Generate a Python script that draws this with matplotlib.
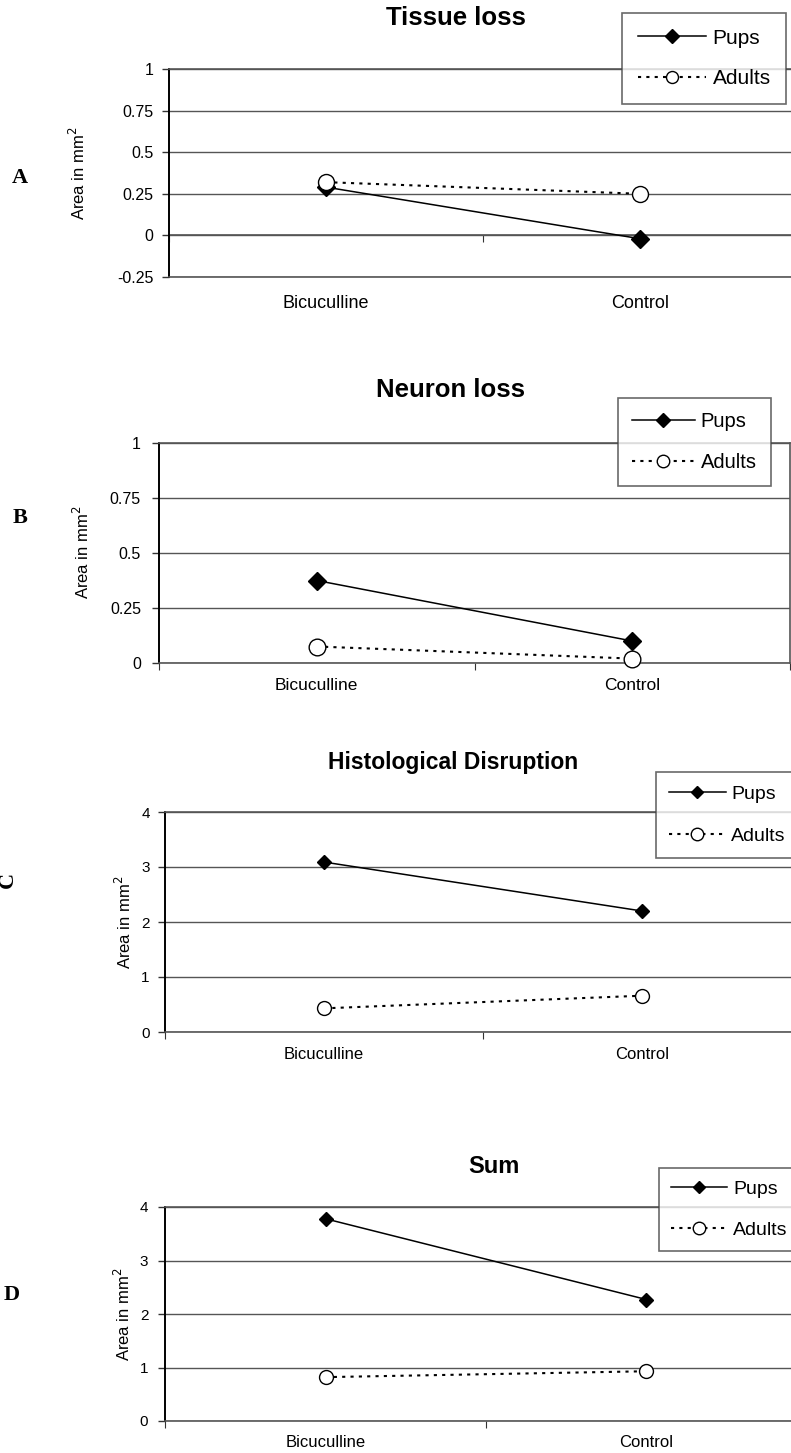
import matplotlib
matplotlib.use("Agg")
import matplotlib.pyplot as plt

plt.rcParams['font.family'] = ['Liberation Sans', 'DejaVu Sans']

categories = ["Bicuculline", "Control"]
series_names = ["Pups", "Adults"]

titles = ["Tissue loss", "Neuron loss", "Histological Disruption", "Sum"]
panel_letters = ["A", "B", "C", "D"]

pups_tissue = [0.29, -0.02]
adults_tissue = [0.32, 0.25]
pups_neuron = [0.375, 0.10]
adults_neuron = [0.075, 0.02]
pups_histo = [3.09, 2.20]
adults_histo = [0.43, 0.66]
pups_sum = [3.78, 2.27]
adults_sum = [0.82, 0.93]

yticks_small = [-0.25, 0, 0.25, 0.5, 0.75, 1]
yticks_large = [0, 1, 2, 3, 4]

W, H = 791, 1453


def px_rect(left, right, top, bottom):
    return [left / W, 1 - bottom / H, (right - left) / W, (bottom - top) / H]


# layout of each panel in pixels
panels = [
    dict(rect=(169, 797, 69, 277), ylim=(-0.25, 1), yticks=yticks_small,
         pups=pups_tissue, adults=adults_tissue,
         title_xy=(456, 25), label_xy=(78, 173), letter_xy=(20, 178),
         legend_xy=(622, 13), ms=(9, 11.5), mscale=0.75, tickpad=6,
         ticksize=11.5, catsize=13, catpad=13, titlesize=18.5,
         leg=dict(fontsize=15, handlelength=3.3, borderpad=0.75,
                  labelspacing=1.05)),
    dict(rect=(159, 790, 443, 663), ylim=(0, 1), yticks=[0, 0.25, 0.5, 0.75, 1],
         pups=pups_neuron, adults=adults_neuron,
         title_xy=(451, 397), label_xy=(82, 552), letter_xy=(20, 518),
         legend_xy=(618, 398), ms=(9, 12), mscale=0.75, tickpad=8,
         ticksize=11.5, catsize=12.5, catpad=11, titlesize=18.5,
         leg=dict(fontsize=14.5, handlelength=3.1, borderpad=0.7,
                  labelspacing=1.1)),
    dict(rect=(165, 801, 812, 1032), ylim=(0, 4), yticks=yticks_large,
         pups=pups_histo, adults=adults_histo,
         title_xy=(453, 769), label_xy=(124, 922), letter_xy=(8, 880),
         legend_xy=(656, 772), ms=(7, 10), mscale=0.9, tickpad=6,
         ticksize=11, catsize=12, catpad=11, titlesize=16.5,
         leg=dict(fontsize=14, handlelength=2.9, borderpad=0.68,
                  labelspacing=1.26)),
    dict(rect=(165, 807, 1207, 1421), ylim=(0, 4), yticks=yticks_large,
         pups=pups_sum, adults=adults_sum,
         title_xy=(494, 1173), label_xy=(123, 1314), letter_xy=(12, 1295),
         legend_xy=(659, 1168), ms=(7, 10), mscale=0.9, tickpad=7,
         ticksize=11, catsize=12, catpad=10, titlesize=17,
         leg=dict(fontsize=14, handlelength=2.9, borderpad=0.62,
                  labelspacing=1.2)),
]

fig = plt.figure(figsize=(W / 100, H / 100), dpi=100)

grid_col = "#555555"
x = [0.5, 1.5]

for i, p in enumerate(panels):
    ax = fig.add_axes(px_rect(*p["rect"]))
    ax.set_xlim(0, 2)
    ax.set_ylim(*p["ylim"])

    ax.set_yticks(p["yticks"])
    ax.set_yticklabels(["{:g}".format(v) for v in p["yticks"]])
    ax.yaxis.grid(True, color=grid_col, lw=1)
    ax.set_axisbelow(True)
    ax.tick_params(axis="y", length=5, width=1, direction="out",
                   pad=p["tickpad"], labelsize=p["ticksize"], color="#333333")

    # category labels as minor ticks, major ticks unlabeled
    ax.set_xticks([0, 1, 2])
    ax.set_xticklabels([])
    ax.set_xticks(x, minor=True)
    ax.set_xticklabels(categories, minor=True)
    ax.tick_params(axis="x", which="minor", length=0, pad=p["catpad"],
                   labelsize=p["catsize"])
    ax.tick_params(axis="x", which="major", length=5, color="#333333")

    for s in ["top", "right", "bottom"]:
        ax.spines[s].set_color(grid_col)
        ax.spines[s].set_linewidth(1.2)
    ax.spines["left"].set_color("black")
    ax.spines["left"].set_linewidth(1.4)

    if p["ylim"][0] < 0:
        # category axis crosses at zero
        ax.tick_params(axis="x", which="major", length=0)
        frac = (0 - p["ylim"][0]) / (p["ylim"][1] - p["ylim"][0])
        sec = ax.secondary_xaxis(frac)
        sec.set_xticks([0, 1, 2])
        sec.set_xticklabels([])
        sec.tick_params(length=5, color="#333333")
        sec.spines["bottom"].set_color(grid_col)
        sec.spines["bottom"].set_linewidth(1.2)

    ms_d, ms_o = p["ms"]
    ax.plot(x, p["pups"], color="black", lw=1.1, marker="D", ms=ms_d,
            mfc="black", mec="black", label=series_names[0], clip_on=False,
            zorder=3)
    ax.plot(x, p["adults"], color="black", lw=1.5, ls=(0, (1.5, 2.5)),
            marker="o", ms=ms_o, mfc="white", mec="black", mew=1.0,
            label=series_names[1], clip_on=False, zorder=4)

    lx, ly = p["legend_xy"]
    leg = ax.legend(loc="upper left", bbox_to_anchor=(lx / W, 1 - ly / H),
                    bbox_transform=fig.transFigure, borderaxespad=0,
                    frameon=True, fancybox=False, edgecolor="#444444",
                    handletextpad=0.3, markerscale=p["mscale"], numpoints=1,
                    **p["leg"])
    leg.get_frame().set_linewidth(1.2)
    leg.set_zorder(10)

    tx, ty = p["title_xy"]
    fig.text(tx / W, 1 - ty / H, titles[i], ha="center", va="baseline",
             fontsize=p["titlesize"], fontweight="bold")

    yx, yy = p["label_xy"]
    fig.text(yx / W, 1 - yy / H, "Area in mm$^2$", rotation=90,
             ha="center", va="center", fontsize=12)

    px_, py_ = p["letter_xy"]
    fig.text(px_ / W, 1 - py_ / H, panel_letters[i], ha="center",
             va="center", fontsize=16, fontweight="bold",
             family="Liberation Serif", rotation=90 if i == 2 else 0)

fig.savefig("out.png", dpi=100)
